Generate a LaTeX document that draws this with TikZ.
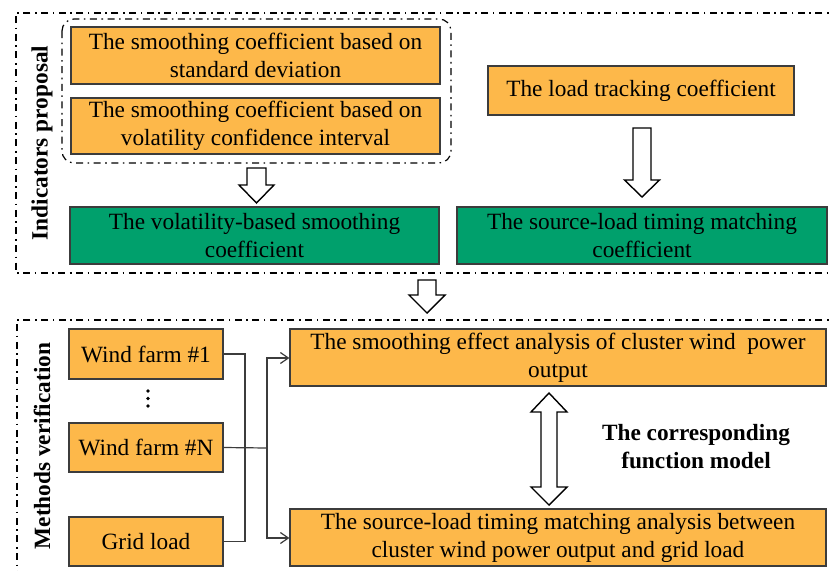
\documentclass[tikz,border=0pt]{standalone}
\usepackage{fontspec}
\setmainfont{Liberation Serif}
\usetikzlibrary{arrows.meta}
\definecolor{boxor}{HTML}{FDB84A}
\definecolor{boxgr}{HTML}{00A06C}
\definecolor{edgegray}{HTML}{3C3C3C}
\newcommand\blkdown[6]{% cx, ytop, yheadstart, ytip, halfshaft, halfhead
  \draw[blockarrow] (#1-#5,#2) -- (#1+#5,#2) -- (#1+#5,#3) -- (#1+#6,#3) -- (#1,#4) -- (#1-#6,#3) -- (#1-#5,#3) -- cycle;}
\tikzset{
  txt/.style={font=\fontsize{23.3}{28}\selectfont, align=center, inner sep=0pt},
  obox/.style={txt, draw=edgegray, line width=1.2pt, fill=boxor},
  gbox/.style={txt, draw=edgegray, line width=1.2pt, fill=boxgr},
  frame/.style={line width=1.2pt, dash pattern=on 7pt off 4.5pt on 1.6pt off 4.5pt},
  blockarrow/.style={draw=black, line width=1.4pt, fill=white, line join=miter},
  conn/.style={draw=edgegray, line width=1.2pt},
  tip/.style={-{Straight Barb[length=8pt,width=11pt,line width=1.2pt]}},
  lab/.style={font=\bfseries\fontsize{23.3}{28}\selectfont, inner sep=0pt, align=center}
}
\begin{document}
\begin{tikzpicture}[x=1pt,y=-1pt]
\clip (0,0) rectangle (829,570);
\fill[white] (0,0) rectangle (829,570);
% frames
\draw[frame] (840,13) -- (16,13) -- (16,273) -- (840,273);
\draw[frame] (840,320) -- (17,320) -- (17,580);
\draw[frame, rounded corners=12pt] (62,19) rectangle (451,163);
% top section
\node[obox, minimum width=369pt, minimum height=57pt] (b1) at (255.5,55.5) {The smoothing coefficient based on\\standard deviation};
\node[obox, minimum width=369pt, minimum height=56pt] (b2) at (255.5,126) {The smoothing coefficient based on\\volatility confidence interval};
\node[obox, minimum width=306pt, minimum height=49pt] (load) at (641,90.5) {The load tracking coefficient};
\node[gbox, minimum width=369pt, minimum height=57pt] (g1) at (254.5,235.5) {The volatility-based smoothing\\coefficient};
\node[gbox, minimum width=370pt, minimum height=57pt] (g2) at (642,235.5) {The source-load timing matching\\coefficient};
\node[lab, rotate=90] (l1) at (42,143) {Indicators proposal};
% block arrows top
\blkdown{256.5}{168}{185}{203}{9.5}{17.5}
\blkdown{642}{128}{180}{197}{9}{17.5}
\blkdown{427}{280}{295}{313}{9}{18}
% bottom section
\node[obox, minimum width=154pt, minimum height=50pt] (wf1) at (146,354) {Wind farm \#1};
\node[obox, minimum width=154pt, minimum height=49pt] (wfn) at (146,447.5) {Wind farm \#N};
\node[obox, minimum width=154pt, minimum height=49pt] (gl) at (146,541.5) {Grid load};
\node[obox, minimum width=536pt, minimum height=57pt] (se) at (558,357.5) {The smoothing effect analysis of cluster wind~ power\\output};
\node[obox, minimum width=536pt, minimum height=57pt] (ma) at (558,537.5) {The source-load timing matching analysis between\\cluster wind power output and grid load};
\node[lab, rotate=90] (l2) at (42,446) {Methods verification};
\node[lab] (fm) at (696,446.5) {The corresponding\\function model};
\foreach \yy in {391,398.5,406} \fill (148,\yy) circle (1.9pt);
% connectors
\coordinate (j1) at (245,354);
\coordinate (j2) at (267,448);
\draw[conn] (wf1.east) -- (j1) -- (245,541.5) -- (gl.east);
\draw[conn] (wfn.east) -- (j2);
\draw[conn, tip] (j2) |- (se.west |- 0,358);
\draw[conn, tip] (j2) |- (ma.west |- 0,538);
% double arrow
\draw[blockarrow] (549,393) -- (567,412) -- (557,412) -- (557,487) -- (567,487) -- (549,505) -- (531,487) -- (541,487) -- (541,412) -- (531,412) -- cycle;
\end{tikzpicture}
\end{document}
